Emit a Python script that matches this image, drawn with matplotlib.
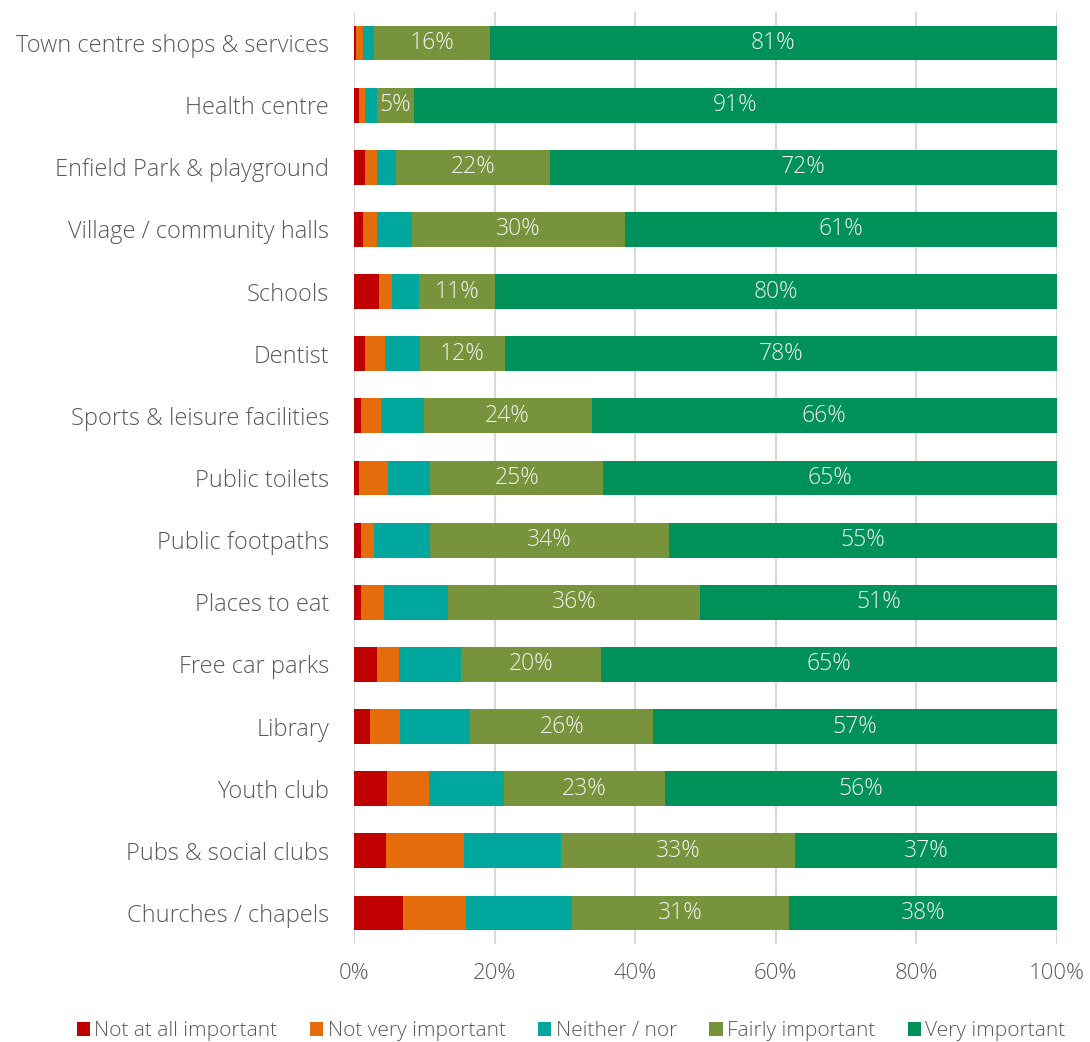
import matplotlib
matplotlib.use("Agg")
import matplotlib.pyplot as plt
import numpy as np

plt.rcParams['font.family'] = ['Open Sans', 'DejaVu Sans']

categories = ["Town centre shops & services", "Health centre", "Enfield Park & playground",
              "Village / community halls", "Schools", "Dentist", "Sports & leisure facilities",
              "Public toilets", "Public footpaths", "Places to eat", "Free car parks",
              "Library", "Youth club", "Pubs & social clubs", "Churches / chapels"]

not_at_all = [0.3, 0.75, 1.6, 1.3, 3.6, 1.6, 1.0, 0.75, 1.0, 1.0, 3.3, 2.3, 4.7, 4.5, 7.0]
not_very = [1.0, 0.8, 1.7, 1.9, 1.8, 2.8, 2.8, 4.1, 1.8, 3.3, 3.1, 4.3, 6.0, 11.2, 8.9]
neither = [1.5, 1.7, 2.6, 5.0, 3.8, 5.0, 6.1, 6.0, 8.0, 9.1, 8.8, 9.9, 10.6, 13.8, 15.1]
fairly = [16.5, 5.3, 22.0, 30.4, 10.9, 12.1, 23.9, 24.6, 34.0, 35.8, 20.0, 26.1, 23.0, 33.2, 30.9]
very = [80.7, 91.45, 72.1, 61.4, 79.9, 78.5, 66.2, 64.6, 55.2, 50.8, 64.8, 57.4, 55.7, 37.3, 38.1]

series = [not_at_all, not_very, neither, fairly, very]
names = ["Not at all important", "Not very important", "Neither / nor",
         "Fairly important", "Very important"]
colors = ["#C00000", "#E46C0A", "#00A79D", "#77933C", "#00905A"]
labelled = [False, False, False, True, True]

fig = plt.figure(figsize=(10.9, 10.42), dpi=100)
ax = fig.add_axes([0.3248, 0.094, 0.6449, 0.8945])

y = np.arange(len(categories))
left = np.zeros(len(categories))
for vals, name, col, lab in zip(series, names, colors, labelled):
    vals = np.array(vals)
    bars = ax.barh(y, vals, left=left, height=0.56, color=col, label=name, zorder=3)
    if lab:
        for b, v in zip(bars, vals):
            ax.text(b.get_x() + b.get_width() / 2, b.get_y() + b.get_height() / 2,
                    f"{v:.0f}%", ha='center', va='center', color='#F2F2F2',
                    fontsize=16.5, fontweight='light', zorder=4)
    left += vals

ax.set_xlim(0, 100)
ax.set_ylim(len(categories) - 0.5, -0.5)
ax.set_yticks(y)
ax.set_yticklabels(categories, fontsize=17, color='#595959', fontweight='light')
ax.set_xticks(np.arange(0, 101, 20))
ax.set_xticklabels([f"{t}%" for t in range(0, 101, 20)], fontsize=16,
                   color='#595959', fontweight='light')
ax.tick_params(axis='y', length=0, pad=18)
ax.tick_params(axis='x', length=0, pad=14)
for s in ax.spines.values():
    s.set_visible(False)
ax.grid(axis='x', color='#D9D9D9', linewidth=1.5, zorder=0)

fig.legend(loc='lower center', bbox_to_anchor=(0.524, -0.017), ncol=5, frameon=False,
           handlelength=0.65, handleheight=0.65, handletextpad=0.2,
           columnspacing=1.55, labelcolor='#595959', prop={'weight': 'light', 'size': 15})

fig.savefig("out.png", dpi=100)
